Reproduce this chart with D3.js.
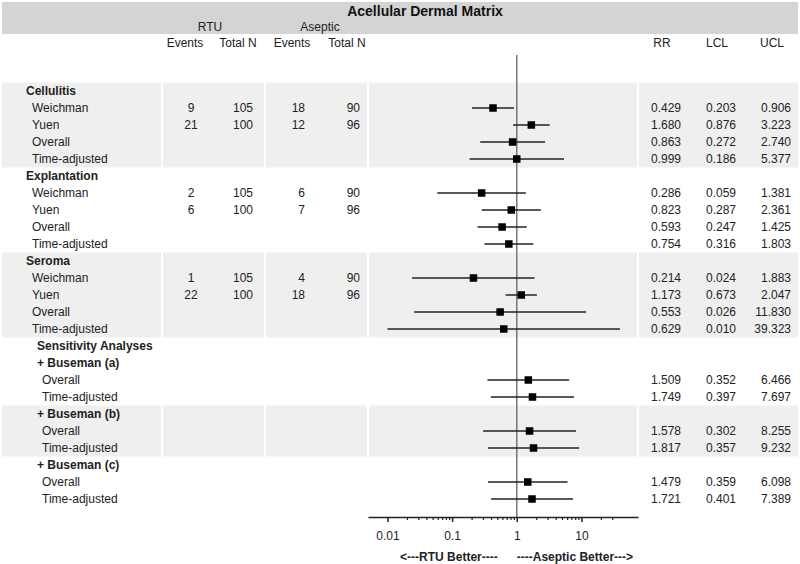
<!DOCTYPE html>
<html>
<head>
<meta charset="utf-8">
<script src="https://cdn.jsdelivr.net/npm/d3@7/dist/d3.min.js"></script>
<style>
  html, body { margin: 0; padding: 0; background: #fff; }
  svg { display: block; font-family: "Liberation Sans", Arial, sans-serif; }
</style>
</head>
<body>
<svg id="chart" width="800" height="564"></svg>
<script>
// ---------------- DATA ----------------
const title = "Acellular Dermal Matrix";
const rowLabels = [
  "Cellulitis", "Weichman", "Yuen", "Overall", "Time-adjusted",
  "Explantation", "Weichman", "Yuen", "Overall", "Time-adjusted",
  "Seroma", "Weichman", "Yuen", "Overall", "Time-adjusted",
  "Sensitivity Analyses", "+ Buseman (a)", "Overall", "Time-adjusted",
  "+ Buseman (b)", "Overall", "Time-adjusted",
  "+ Buseman (c)", "Overall", "Time-adjusted"
];
// row kind: outcome header, study/summary row, sensitivity header, sensitivity subgroup, sensitivity row
const rowKinds = [
  "outcome", "row", "row", "row", "row",
  "outcome", "row", "row", "row", "row",
  "outcome", "row", "row", "row", "row",
  "sens", "sub", "subrow", "subrow",
  "sub", "subrow", "subrow",
  "sub", "subrow", "subrow"
];
// block membership (for alternating shading)
const rowBlocks = [0,0,0,0,0, 1,1,1,1,1, 2,2,2,2,2, 3,3,3,3, 4,4,4, 5,5,5];

const rtuEvents     = [null, 9, 21, null, null, null, 2, 6, null, null, null, 1, 22, null, null, null,null,null,null, null,null,null, null,null,null];
const rtuTotal      = [null, 105, 100, null, null, null, 105, 100, null, null, null, 105, 100, null, null, null,null,null,null, null,null,null, null,null,null];
const asepticEvents = [null, 18, 12, null, null, null, 6, 7, null, null, null, 4, 18, null, null, null,null,null,null, null,null,null, null,null,null];
const asepticTotal  = [null, 90, 96, null, null, null, 90, 96, null, null, null, 90, 96, null, null, null,null,null,null, null,null,null, null,null,null];

const rr  = [null, 0.429, 1.680, 0.863, 0.999, null, 0.286, 0.823, 0.593, 0.754, null, 0.214, 1.173, 0.553, 0.629, null, null, 1.509, 1.749, null, 1.578, 1.817, null, 1.479, 1.721];
const lcl = [null, 0.203, 0.876, 0.272, 0.186, null, 0.059, 0.287, 0.247, 0.316, null, 0.024, 0.673, 0.026, 0.010, null, null, 0.352, 0.397, null, 0.302, 0.357, null, 0.359, 0.401];
const ucl = [null, 0.906, 3.223, 2.740, 5.377, null, 1.381, 2.361, 1.425, 1.803, null, 1.883, 2.047, 11.830, 39.323, null, null, 6.466, 7.697, null, 8.255, 9.232, null, 6.098, 7.389];

const majorTicks = [0.01, 0.1, 1, 10];
const majorTickLabels = ["0.01", "0.1", "1", "10"];
const minorTicks = [0.02,0.03,0.04,0.05,0.06,0.07,0.08,0.09, 0.2,0.3,0.4,0.5,0.6,0.7,0.8,0.9, 2,3,4,5,6,7,8,9, 20,30];
const groupHeaders = ["RTU", "Aseptic"];
const colHeaders = ["Events", "Total N", "Events", "Total N"];
const statHeaders = ["RR", "LCL", "UCL"];
const leftNote = "<---RTU Better----";
const rightNote = "----Aseptic Better--->";

// ---------------- LAYOUT ----------------
const svg = d3.select("#chart");
const textColor = "#222";
const y = d3.scaleLinear().domain([0, rowLabels.length - 1]).range([91, 499]);
const x = d3.scaleLog().domain([0.005, 75]).range([368, 638]);
const rowH = 17;

// title bar
svg.append("rect").attr("x", 2).attr("y", 2).attr("width", 796).attr("height", 32).attr("fill", "#d4d4d4");
svg.append("text").attr("x", 425).attr("y", 11).attr("dy", "0.35em")
  .attr("text-anchor", "middle").attr("font-size", 14).attr("font-weight", "bold")
  .attr("fill", "#111").text(title);
svg.append("text").attr("x", 210).attr("y", 26.5).attr("dy", "0.35em").attr("text-anchor", "middle")
  .attr("font-size", 12).attr("fill", textColor).text(groupHeaders[0]);
svg.append("text").attr("x", 320).attr("y", 26.5).attr("dy", "0.35em").attr("text-anchor", "middle")
  .attr("font-size", 12).attr("fill", textColor).text(groupHeaders[1]);

// column headers
const colHeaderX = [185, 238, 292, 347];
colHeaders.forEach((h, i) => {
  svg.append("text").attr("x", colHeaderX[i]).attr("y", 42.5).attr("dy", "0.35em").attr("text-anchor", "middle")
    .attr("font-size", 12).attr("fill", textColor).text(h);
});
const statHeaderX = [662, 717, 772];
statHeaders.forEach((h, i) => {
  svg.append("text").attr("x", statHeaderX[i]).attr("y", 42.5).attr("dy", "0.35em").attr("text-anchor", "middle")
    .attr("font-size", 12).attr("fill", textColor).text(h);
});

// shaded bands
const segs = [[2, 161], [163, 264], [266, 367], [369, 637], [639, 798]];
const blocks = d3.groups(rowLabels.map((d, i) => i), i => rowBlocks[i]);
blocks.forEach(([b, idx]) => {
  if (b % 2 !== 0) return;
  const y0 = y(d3.min(idx)) - rowH / 2, y1 = y(d3.max(idx)) + rowH / 2;
  segs.forEach(([a, e]) => {
    svg.append("rect").attr("x", a).attr("y", y0).attr("width", e - a).attr("height", y1 - y0).attr("fill", "#efefef");
  });
});

// row labels
const labelX = { outcome: 26, row: 32, sens: 37, sub: 37, subrow: 42 };
const labelBold = { outcome: true, row: false, sens: true, sub: true, subrow: false };
svg.append("g").selectAll("text").data(rowLabels).join("text")
  .attr("x", (d, i) => labelX[rowKinds[i]])
  .attr("y", (d, i) => y(i)).attr("dy", "0.35em")
  .attr("font-size", 12)
  .attr("font-weight", (d, i) => labelBold[rowKinds[i]] ? "bold" : "normal")
  .attr("fill", textColor)
  .text(d => d);

// count columns
function numCol(arr, xpos, anchor, fmt) {
  svg.append("g").selectAll("text").data(arr.map((v, i) => ({ v, i })).filter(d => d.v !== null)).join("text")
    .attr("x", xpos).attr("y", d => y(d.i)).attr("dy", "0.35em")
    .attr("text-anchor", anchor).attr("font-size", 12).attr("fill", textColor)
    .text(d => fmt ? fmt(d.v) : d.v);
}
numCol(rtuEvents, 191, "middle");
numCol(rtuTotal, 253, "end");
numCol(asepticEvents, 305, "end");
numCol(asepticTotal, 360, "end");
const f3 = d3.format(".3f");
numCol(rr, 681, "end", f3);
numCol(lcl, 736, "end", f3);
numCol(ucl, 791, "end", f3);

// reference line at 1
svg.append("line").attr("x1", x(1)).attr("x2", x(1)).attr("y1", 55).attr("y2", 517)
  .attr("stroke", "#777").attr("stroke-width", 1.5);

// CIs and markers
const est = rr.map((v, i) => ({ v, lo: lcl[i], hi: ucl[i], i })).filter(d => d.v !== null);
svg.append("g").selectAll("line").data(est).join("line")
  .attr("x1", d => x(d.lo)).attr("x2", d => x(d.hi))
  .attr("y1", d => y(d.i)).attr("y2", d => y(d.i))
  .attr("stroke", "#222").attr("stroke-width", 1.5);
const ms = 7.5;
svg.append("g").selectAll("rect").data(est).join("rect")
  .attr("x", d => x(d.v) - ms / 2).attr("y", d => y(d.i) - ms / 2)
  .attr("width", ms).attr("height", ms).attr("fill", "#000");

// axis
const axisY = 517;
const gMinor = svg.append("g").attr("transform", `translate(0,${axisY})`)
  .call(d3.axisBottom(x).tickValues(minorTicks).tickSize(3).tickFormat(""));
gMinor.select(".domain").remove();
gMinor.selectAll("line").attr("stroke", "#222").attr("stroke-width", 1.2);
const gMajor = svg.append("g").attr("transform", `translate(0,${axisY})`)
  .call(d3.axisBottom(x).tickValues(majorTicks).tickSize(5).tickSizeOuter(0).tickPadding(9)
    .tickFormat((d, i) => majorTickLabels[i]));
gMajor.select(".domain").attr("stroke", "#222").attr("stroke-width", 1.6);
gMajor.selectAll("line").attr("stroke", "#222").attr("stroke-width", 1.5);
gMajor.selectAll("text").attr("font-size", 12).attr("fill", textColor)
  .attr("font-family", "'Liberation Sans', Arial, sans-serif");

// direction notes
svg.append("text").attr("x", x(1) - 19).attr("y", 557).attr("dy", "0.35em").attr("text-anchor", "end")
  .attr("font-size", 12).attr("font-weight", "bold").attr("fill", textColor).text(leftNote);
svg.append("text").attr("x", x(1)).attr("y", 557).attr("dy", "0.35em").attr("text-anchor", "start")
  .attr("font-size", 12).attr("font-weight", "bold").attr("fill", textColor).text(rightNote);
</script>
</body>
</html>
